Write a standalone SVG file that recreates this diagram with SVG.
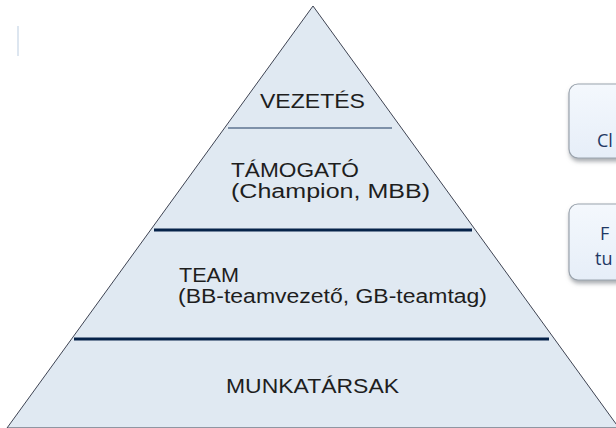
<svg xmlns="http://www.w3.org/2000/svg" width="616" height="428" viewBox="0 0 616 428">
<style>
.lbl{font-family:"Liberation Sans",Arial,sans-serif;font-size:20px;fill:#1e1e1e}
.box{fill:url(#bg);stroke:#9aa3ad;stroke-width:1.2}
.btxt{font-family:"Open Sans","Liberation Sans",sans-serif;font-size:18px;fill:#1f3864}
.thick{stroke:#06234a;stroke-width:3}
.thin{stroke:#1c3a60;stroke-width:1.2}
</style>
<defs>
<linearGradient id="bg" x1="0" y1="0" x2="0" y2="1">
<stop offset="0" stop-color="#f4f8fd"/>
<stop offset="1" stop-color="#e6eef8"/>
</linearGradient>
<filter id="sh" x="-20%" y="-20%" width="140%" height="140%">
<feDropShadow dx="1" dy="3" stdDeviation="2" flood-color="#6d737a" flood-opacity="0.6"/>
</filter>
</defs>
<rect width="616" height="428" fill="#ffffff"/>
<rect x="17" y="26" width="2" height="30" fill="#dde6f0"/>
<g id="box1">
<rect class="box" x="569" y="84" width="70" height="74" rx="9" filter="url(#sh)"/>
<text class="btxt" x="597" y="147">Cl</text>
</g>
<g id="box2">
<rect class="box" x="569" y="204" width="70" height="76" rx="9" filter="url(#sh)"/>
<text class="btxt" x="600" y="240">F</text>
<text class="btxt" x="595" y="265">tu</text>
</g>
<g id="pyramid">
<polygon points="313,6 7,428 619,428" fill="#e0e9f2" stroke="#3e4352" stroke-width="1"/>
</g>
<g id="connectors">
<line class="thin" x1="228" y1="128" x2="392" y2="128"/>
<line class="thick" x1="154" y1="230" x2="472" y2="230"/>
<line class="thick" x1="74" y1="339" x2="549" y2="339"/>
</g>
<g id="vezetes">
<text class="lbl" x="260" y="108" textLength="105" lengthAdjust="spacingAndGlyphs">VEZETÉS</text>
</g>
<g id="tamogato">
<text class="lbl" x="231" y="177" textLength="128" lengthAdjust="spacingAndGlyphs">TÁMOGATÓ</text>
<text class="lbl" x="231" y="198" textLength="199" lengthAdjust="spacingAndGlyphs">(Champion, MBB)</text>
</g>
<g id="team">
<text class="lbl" x="179" y="282" textLength="60" lengthAdjust="spacingAndGlyphs">TEAM</text>
<text class="lbl" x="178" y="303" textLength="309" lengthAdjust="spacingAndGlyphs">(BB-teamvezető, GB-teamtag)</text>
</g>
<g id="munkatarsak">
<text class="lbl" x="226" y="393" textLength="173" lengthAdjust="spacingAndGlyphs">MUNKATÁRSAK</text>
</g>
</svg>
